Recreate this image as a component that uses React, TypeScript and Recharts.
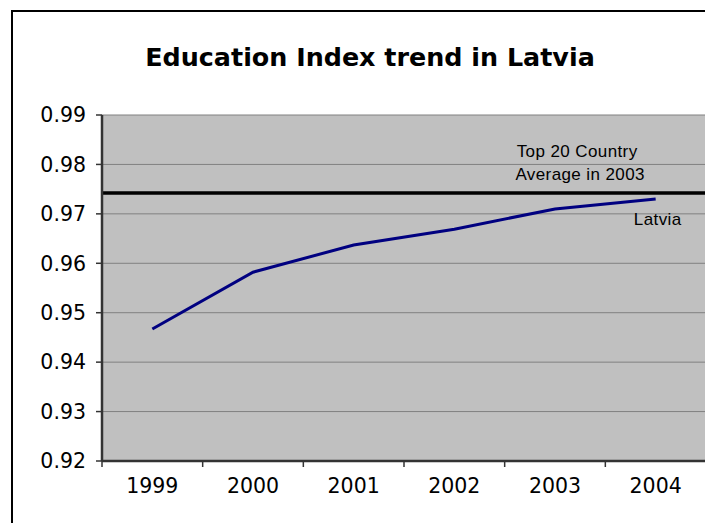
import React from 'react';
import { LineChart, Line, XAxis, YAxis, CartesianGrid, ReferenceLine, ReferenceDot, ReferenceArea } from 'recharts';

const years = [1999, 2000, 2001, 2002, 2003, 2004];
const educationIndex = [0.9467, 0.9582, 0.9637, 0.9669, 0.971, 0.973];
const top20Average = 0.9742;
const yTicks = [0.92, 0.93, 0.94, 0.95, 0.96, 0.97, 0.98, 0.99];
const categoryEdges = [1998.5, 1999.5, 2000.5, 2001.5, 2002.5, 2003.5, 2004.5];
const annotations = [
  { text: 'Top 20 Country', x: 2003.22, y: 0.98156 },
  { text: 'Average in 2003', x: 2003.25, y: 0.97685 },
  { text: 'Latvia', x: 2004.02, y: 0.96767 },
];

const data = years.map((year, i) => ({ year, value: educationIndex[i] }));

const annotFont = { fontFamily: '"Liberation Sans", Arial, sans-serif', fontSize: 17, fill: '#000', letterSpacing: 0.4 };
const tickFont = { fontFamily: '"DejaVu Sans", Verdana, sans-serif', fontSize: 20.5, fill: '#000' };

export default function App() {
  return (
    <div style={{ position: 'relative', width: 705, height: 515, overflow: 'hidden', background: '#fff' }}>
      <div style={{ position: 'absolute', left: 3, top: 2, width: 900, height: 900, borderLeft: '2.5px solid #000', borderTop: '2.5px solid #000' }} />
      <div style={{ position: 'absolute', left: 62, top: 37, width: 600, textAlign: 'center', fontFamily: '"DejaVu Sans", Verdana, sans-serif', fontWeight: 'bold', fontSize: 25.4, lineHeight: '25px', color: '#000' }}>
        Education Index trend in Latvia
      </div>
      <div style={{ position: 'absolute', left: 0, top: 0 }}>
        <LineChart width={705} height={515} data={data} margin={{ top: 107, right: 7, left: 0, bottom: 0 }}>
          <CartesianGrid fill="#C0C0C0" stroke="#808080" strokeWidth={1} vertical={false} />
          <XAxis
            dataKey="year"
            type="number"
            domain={[1998.5, 2004.5]}
            ticks={categoryEdges}
            tickFormatter={() => ''}
            tickSize={6}
            height={1}
            axisLine={false}
            tickLine={{ stroke: '#333', strokeWidth: 1.5 }}
            interval={0}
          />
          <XAxis
            xAxisId="labels"
            dataKey="year"
            type="number"
            domain={[1998.5, 2004.5]}
            ticks={years}
            tickSize={0}
            tickMargin={16}
            height={61}
            tickLine={false}
            axisLine={false}
            tick={tickFont}
            interval={0}
          />
          <YAxis
            type="number"
            domain={[0.92, 0.99]}
            ticks={yTicks}
            width={94}
            tickSize={6}
            tickMargin={10}
            tickFormatter={(v: number) => v.toFixed(2)}
            axisLine={{ stroke: '#333', strokeWidth: 2.5 }}
            tickLine={{ stroke: '#333', strokeWidth: 1.5 }}
            tick={tickFont}
            interval={0}
          />
          <ReferenceArea fill="none" stroke="#808080" strokeWidth={1} ifOverflow="visible" />
          <ReferenceLine y={0.92} stroke="#333" strokeWidth={2.5} />
          <ReferenceLine y={top20Average} stroke="#000" strokeWidth={3.5} />
          <Line type="linear" dataKey="value" stroke="#000080" strokeWidth={3} dot={false} isAnimationActive={false} />
          {annotations.map((a) => (
            <ReferenceDot
              key={a.text}
              x={a.x}
              y={a.y}
              r={0}
              ifOverflow="visible"
              shape={(p: any) => (
                <text x={p.cx} y={p.cy} textAnchor="middle" style={annotFont}>{a.text}</text>
              )}
            />
          ))}
        </LineChart>
      </div>
    </div>
  );
}
